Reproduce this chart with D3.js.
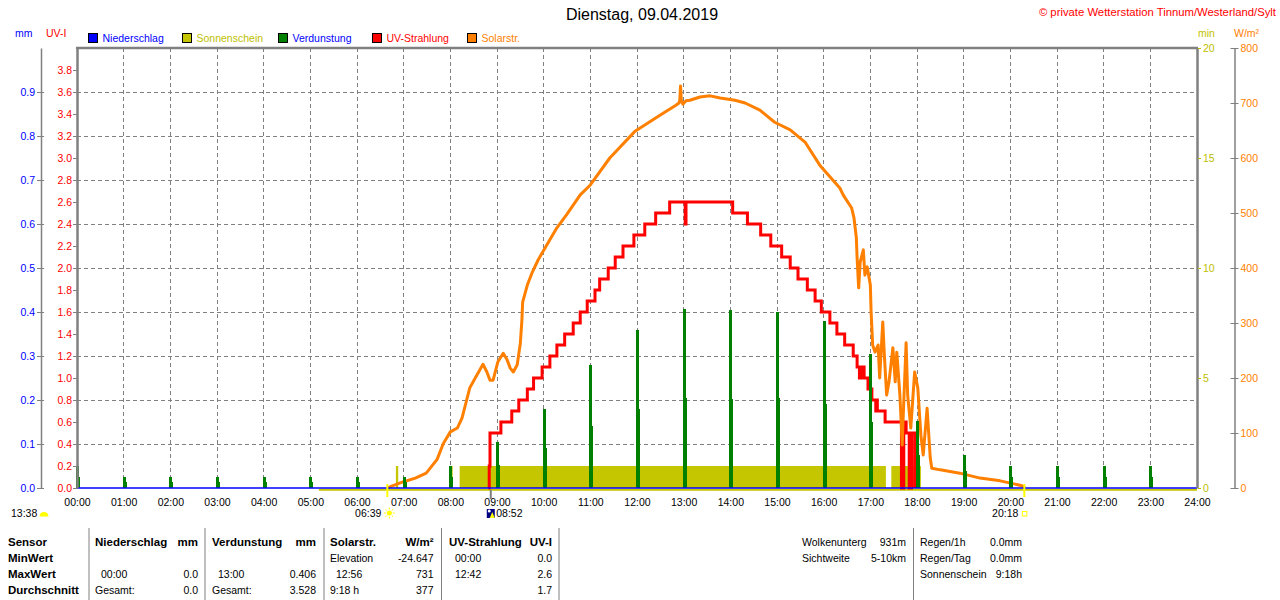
<!DOCTYPE html>
<html>
<head>
<meta charset="utf-8">
<script src="https://cdn.jsdelivr.net/npm/d3@7"></script>
<style>
  body { margin: 0; background: #fff; }
  svg { display: block; font-family: "Liberation Sans", Arial, sans-serif; }
</style>
</head>
<body>
<svg id="chart" width="1280" height="600"></svg>
<script>
// ---- Daten ----
const zeitTicks = ["00:00","01:00","02:00","03:00","04:00","05:00","06:00","07:00","08:00","09:00","10:00","11:00","12:00",
  "13:00","14:00","15:00","16:00","17:00","18:00","19:00","20:00","21:00","22:00","23:00","24:00"];
const mmTicks = [0.0, 0.1, 0.2, 0.3, 0.4, 0.5, 0.6, 0.7, 0.8, 0.9];
const uvTicks = [0.0, 0.2, 0.4, 0.6, 0.8, 1.0, 1.2, 1.4, 1.6, 1.8, 2.0, 2.2, 2.4, 2.6, 2.8, 3.0, 3.2, 3.4, 3.6, 3.8];
const minTicks = [0, 5, 10, 15, 20];
const wTicks = [0, 100, 200, 300, 400, 500, 600, 700, 800];

// Niederschlag (mm)
const niederschlagZeit = ["00:00", "24:00"];
const niederschlag = [0, 0];

// Verdunstung je Stunde (mm)
const verdunstungZeit = ["00:00","01:00","02:00","03:00","04:00","05:00","06:00","07:00","08:00","09:00","10:00","11:00",
  "12:00","13:00","14:00","15:00","16:00","17:00","18:00","19:00","20:00","21:00","22:00","23:00"];
const verdunstung = [0.051, 0.026, 0.026, 0.026, 0.026, 0.026, 0.026, 0.026, 0.051, 0.105, 0.18, 0.28,
  0.36, 0.406, 0.405, 0.40, 0.38, 0.305, 0.152, 0.075, 0.05, 0.05, 0.05, 0.05];
const verdunstungHalb = [0.026, 0.014, 0.014, 0.014, 0.014, 0.014, 0.014, 0.013, 0.025, 0.052, 0.09, 0.14,
  0.18, 0.205, 0.202, 0.205, 0.19, 0.15, 0.075, 0.038, 0.025, 0.025, 0.025, 0.025];

// Sonnenschein (min pro Minute)
const sonneStart = "05:11";
const sonneVon = ["06:50", "08:02", "08:12", "17:27"];
const sonneBis = ["06:53", "08:03", "17:20", "18:05"];
const sonneMin = [1, 1, 1, 1];

// UV-Strahlung (UV-I), Stufenwerte ab Zeitpunkt
const uvZeit = ["08:49","08:50","08:51","09:05","09:19","09:28","09:39","09:47","09:58","10:08","10:17","10:27","10:38",
  "10:47","10:56","11:06","11:12","11:23","11:32","11:42","11:56","12:10","12:24","12:42","13:02","13:03","14:03",
  "14:22","14:39","14:52","15:06","15:17","15:27","15:39","15:49","15:57","16:08","16:17","16:27","16:38","16:43",
  "16:46","16:47","16:49","16:50","16:52","16:57","17:02","17:07","17:08","17:09","17:19","17:40","17:43","17:46",
  "17:50","17:53","17:57"];
const uvWert = [0.0, 0.2, 0.5, 0.6, 0.7, 0.8, 0.9, 1.0, 1.1, 1.2, 1.3, 1.4, 1.5,
  1.6, 1.7, 1.8, 1.9, 2.0, 2.1, 2.2, 2.3, 2.4, 2.5, 2.6, 2.4, 2.6, 2.5,
  2.4, 2.3, 2.2, 2.1, 2.0, 1.9, 1.8, 1.7, 1.6, 1.5, 1.4, 1.3, 1.2, 1.1,
  1.0, 1.1, 1.0, 1.1, 1.0, 0.9, 0.8, 0.7, 0.8, 0.7, 0.6, 0.0, 0.6, 0.5,
  0.0, 0.5, 0.0];

// Solarstrahlung (W/m²)
const solarZeit = ["06:40","06:42","06:59","07:15","07:29","07:43","07:51","08:00","08:09","08:15","08:21","08:25",
  "08:32","08:38","08:42","08:47","08:51","08:55","09:01","09:08","09:13","09:17","09:21","09:26","09:30","09:32",
  "09:33","09:39","09:45","09:53","10:04","10:17","10:30","10:47","11:00","11:25","11:57","12:30","12:49","12:54",
  "12:55","12:56","12:57","12:59","13:03","13:08","13:21","13:34","13:47","14:06","14:19","14:38","14:57","15:17",
  "15:36","15:55","16:21","16:25","16:36","16:39","16:42","16:43","16:45","16:47","16:51","16:53","16:56","17:00",
  "17:01","17:03","17:06","17:10","17:12","17:16","17:18","17:21","17:24","17:29","17:32","17:34","17:38","17:41",
  "17:42","17:46","17:48","17:52","17:57","18:01","18:05","18:08","18:13","18:17","18:19","18:30","18:55","19:21",
  "19:47","20:06","20:15","20:19"];
const solarWert = [0, 2, 11, 18, 27, 52, 81, 102, 109, 127, 160, 182,
  200, 215, 225, 211, 196, 196, 229, 245, 233, 218, 211, 224, 263, 305,
  338, 369, 391, 415, 442, 473, 498, 533, 551, 600, 648, 678, 695, 700,
  705, 731, 705, 698, 704, 705, 711, 713, 709, 705, 700, 687, 665, 651,
  629, 587, 545, 533, 509, 491, 455, 418, 364, 411, 433, 387, 402, 369,
  320, 260, 247, 260, 200, 302, 242, 169, 193, 255, 193, 247, 169, 78,
  120, 264, 169, 109, 211, 182, 96, 60, 145, 55, 36, 33, 27, 18,
  13, 7, 4, 0];

// Astronomische Zeiten
const tageslaenge = "13:38";
const sonnenaufgang = "06:39";
const mondzeit = "08:52";
const sonnenuntergang = "20:18";

// Legende
const legendeNamen = ["Niederschlag", "Sonnenschein", "Verdunstung", "UV-Strahlung", "Solarstr."];
const legendeFarbe = ["#0000ff", "#c6c600", "#008000", "#ff0000", "#ff8000"];
const legendeText = ["#0000ff", "#c0c000", "#0000ff", "#ff0000", "#ff8000"];

// Tabelle
const tabKopf = ["Sensor", "Niederschlag", "mm", "Verdunstung", "mm", "Solarstr.", "W/m²", "UV-Strahlung", "UV-I"];
const tabZeilen = [
  ["MinWert", "", "", "", "", "Elevation", "-24.647", "00:00", "0.0"],
  ["MaxWert", "00:00", "0.0", "13:00", "0.406", "12:56", "731", "12:42", "2.6"],
  ["Durchschnitt", "Gesamt:", "0.0", "Gesamt:", "3.528", "9:18 h", "377", "", "1.7"]
];
const infoZeilen = [
  ["Wolkenunterg", "931m", "Regen/1h", "0.0mm"],
  ["Sichtweite", "5-10km", "Regen/Tag", "0.0mm"],
  ["", "", "Sonnenschein", "9:18h"]
];

// ---- Zeichnen ----
const minuten = s => { const p = s.split(":"); return +p[0] * 60 + +p[1]; };
const svg = d3.select("#chart");
const FS = 10.5;
const grau = "#808080";

const x = d3.scaleLinear().domain([0, 1440]).range([77, 1197]);
const yMM = d3.scaleLinear().domain([0, 1]).range([488, 48]);
const yUV = d3.scaleLinear().domain([0, 4]).range([488, 48]);
const yMin = d3.scaleLinear().domain([0, 20]).range([488, 48]);
const yW = d3.scaleLinear().domain([0, 800]).range([488, 48]);

// Gitter
const grid = svg.append("g").attr("stroke", grau).attr("stroke-dasharray", "4,3").attr("shape-rendering", "crispEdges");
grid.selectAll("line.h").data(mmTicks.slice(1)).join("line").attr("class", "h")
  .attr("x1", x(0)).attr("x2", x(1440)).attr("y1", d => yMM(d)).attr("y2", d => yMM(d));
grid.selectAll("line.v").data(zeitTicks.slice(1, -1)).join("line").attr("class", "v")
  .attr("x1", d => x(minuten(d))).attr("x2", d => x(minuten(d))).attr("y1", yMM(1)).attr("y2", yMM(0));

// Sonnenschein
svg.append("line")
  .attr("x1", x(minuten(sonneStart))).attr("x2", x(1440))
  .attr("y1", yMin(0) + 1.8).attr("y2", yMin(0) + 1.8)
  .attr("stroke", "#c6c600").attr("stroke-width", 2);
svg.append("g").selectAll("rect").data(sonneVon).join("rect")
  .attr("x", d => x(minuten(d)))
  .attr("width", (d, i) => x(minuten(sonneBis[i])) - x(minuten(d)))
  .attr("y", (d, i) => yMin(sonneMin[i]))
  .attr("height", (d, i) => yMin(0) - yMin(sonneMin[i]))
  .attr("fill", "#c6c600");

// UV-Strahlung
const uvDaten = uvZeit.map((t, i) => ({t: minuten(t), v: uvWert[i]}));
svg.append("path").datum(uvDaten)
  .attr("d", d3.line().x(d => x(d.t)).y(d => yUV(d.v)).curve(d3.curveStepAfter))
  .attr("fill", "none").attr("stroke", "#ff0000").attr("stroke-width", 3);

// Solarstrahlung
const solarDaten = solarZeit.map((t, i) => ({t: minuten(t), v: solarWert[i]}));
svg.append("path").datum(solarDaten)
  .attr("d", d3.line().x(d => x(d.t)).y(d => yW(d.v)))
  .attr("fill", "none").attr("stroke", "#ff8000").attr("stroke-width", 3)
  .attr("stroke-linejoin", "round");

// Verdunstung
const verd = svg.append("g").attr("fill", "#008000").attr("shape-rendering", "crispEdges");
verd.selectAll("rect.b").data(verdunstungZeit).join("rect").attr("class", "b")
  .attr("x", d => x(minuten(d))).attr("width", 3)
  .attr("y", (d, i) => yMM(verdunstungHalb[i]))
  .attr("height", (d, i) => yMM(0) - yMM(verdunstungHalb[i]));
verd.selectAll("rect.a").data(verdunstungZeit).join("rect").attr("class", "a")
  .attr("x", d => x(minuten(d)) - 1).attr("width", 3)
  .attr("y", (d, i) => yMM(verdunstung[i]))
  .attr("height", (d, i) => yMM(0) - yMM(verdunstung[i]));

// Niederschlag
svg.append("path").datum(niederschlagZeit.map((t, i) => ({t: minuten(t), v: niederschlag[i]})))
  .attr("d", d3.line().x(d => x(d.t)).y(d => yMM(d.v)))
  .attr("fill", "none").attr("stroke", "#0000ff").attr("stroke-width", 1.6);

// Rahmen oben
svg.append("line").attr("x1", x(0) - 1).attr("x2", x(1440) + 1).attr("y1", yMM(1)).attr("y2", yMM(1))
  .attr("stroke", grau).attr("stroke-width", 2.5);

// Achsen
function styleAxis(g, farbe, textFarbe, breite) {
  g.attr("font-size", FS).attr("font-family", null);
  g.select(".domain").attr("stroke", farbe).attr("stroke-width", breite);
  g.selectAll(".tick line").attr("stroke", farbe);
  g.selectAll(".tick text").attr("fill", textFarbe);
}

const axMM = svg.append("g").attr("transform", "translate(41,0)")
  .call(d3.axisLeft(yMM).tickValues(mmTicks).tickFormat(d3.format(".1f")).tickSize(4).tickPadding(2).tickSizeOuter(0));
styleAxis(axMM, grau, "#0000ff", 1.5);
axMM.selectAll(".tick line").attr("x2", -4).attr("x1", 3);

const axUV = svg.append("g").attr("transform", `translate(${x(0)},0)`)
  .call(d3.axisLeft(yUV).tickValues(uvTicks).tickFormat(d3.format(".1f")).tickSize(4).tickPadding(1).tickSizeOuter(0));
styleAxis(axUV, grau, "#ff0000", 2.5);

const axMin = svg.append("g").attr("transform", `translate(${x(1440)},0)`)
  .call(d3.axisRight(yMin).tickValues(minTicks).tickSize(4).tickPadding(2).tickSizeOuter(0));
styleAxis(axMin, grau, "#c0c000", 2.5);
axMin.selectAll(".tick line").attr("stroke", "#c0c000").attr("x1", 1);

const axW = svg.append("g").attr("transform", "translate(1234.5,0)")
  .call(d3.axisRight(yW).tickValues(wTicks).tickSize(4).tickPadding(2).tickSizeOuter(0));
styleAxis(axW, grau, "#ff8000", 1.5);
axW.selectAll(".tick line").attr("x1", -4);

const axX = svg.append("g").attr("transform", `translate(0,${yMM(0)})`)
  .call(d3.axisBottom(x).tickValues(zeitTicks.map(minuten)).tickFormat((d, i) => zeitTicks[i]).tickSize(0).tickPadding(11));
axX.attr("font-size", FS).attr("font-family", null);
axX.select(".domain").remove();
axX.selectAll(".tick text").attr("fill", "#000");

// Markierungen unter der Achse
[sonnenaufgang, sonnenuntergang].forEach(t => {
  svg.append("line").attr("x1", x(minuten(t))).attr("x2", x(minuten(t)))
    .attr("y1", 484).attr("y2", 497).attr("stroke", "#ffff00").attr("stroke-width", 2);
});
svg.append("line").attr("x1", x(minuten(mondzeit))).attr("x2", x(minuten(mondzeit)))
  .attr("y1", 490).attr("y2", 499).attr("stroke", grau).attr("stroke-width", 2);

const zeitText = (tx, anchor, txt) => svg.append("text").attr("x", tx).attr("y", 517)
  .attr("text-anchor", anchor).attr("font-size", FS).text(txt);

zeitText(11, "start", tageslaenge);
svg.append("path").attr("d", "M39.5,516.5 A4.5,4.5 0 0 1 48.5,516.5 Z").attr("fill", "#ffff00");

const xa = x(minuten(sonnenaufgang));
zeitText(xa - 6, "end", sonnenaufgang);
svg.append("circle").attr("cx", xa + 2).attr("cy", 513).attr("r", 2.5).attr("fill", "#ffff00");
d3.range(8).forEach(k => {
  const a = k * Math.PI / 4;
  svg.append("line").attr("x1", xa + 2 + Math.cos(a) * 3.5).attr("y1", 513 + Math.sin(a) * 3.5)
    .attr("x2", xa + 2 + Math.cos(a) * 5.5).attr("y2", 513 + Math.sin(a) * 5.5)
    .attr("stroke", "#ffff00").attr("stroke-width", 1);
});

const xm = x(minuten(mondzeit));
svg.append("rect").attr("x", xm - 4).attr("y", 509).attr("width", 8).attr("height", 9).attr("fill", "#000080");
svg.append("circle").attr("cx", xm - 1.5).attr("cy", 511).attr("r", 1.5).attr("fill", "#ffffff");
svg.append("path").attr("d", `M${xm - 1},518 L${xm + 1.5},512 L${xm + 4},518 Z`).attr("fill", "#ffff00");
zeitText(xm + 5.5, "start", mondzeit);

const xu = x(minuten(sonnenuntergang));
zeitText(xu - 6, "end", sonnenuntergang);
svg.append("rect").attr("x", xu - 2).attr("y", 511.5).attr("width", 4.5).attr("height", 4.5)
  .attr("fill", "none").attr("stroke", "#ffff00").attr("stroke-width", 1);

// Titel & Copyright
svg.append("text").attr("x", 642).attr("y", 20).attr("text-anchor", "middle").attr("font-size", 16)
  .text("Dienstag, 09.04.2019");
svg.append("text").attr("x", 1276).attr("y", 16).attr("text-anchor", "end").attr("font-size", 11.3)
  .attr("fill", "#ff0000").text("© private Wetterstation Tinnum/Westerland/Sylt");

// Einheiten
[["mm", 15, "start", "#0000ff"], ["UV-I", 46, "start", "#ff0000"], ["min", 1198, "start", "#c0c000"], ["W/m²", 1234, "start", "#ff8000"]]
  .forEach(([t, tx, a, c]) => svg.append("text").attr("x", tx).attr("y", 37).attr("text-anchor", a)
    .attr("font-size", FS).attr("fill", c).text(t));

// Legende
const legX = [88, 182, 278, 372, 467];
const leg = svg.append("g");
legendeNamen.forEach((n, i) => {
  leg.append("rect").attr("x", legX[i] + 0.5).attr("y", 33.5).attr("width", 9).attr("height", 9)
    .attr("fill", legendeFarbe[i]).attr("stroke", "#000").attr("stroke-width", 1);
  leg.append("text").attr("x", legX[i] + 14.5).attr("y", 42).attr("font-size", FS)
    .attr("fill", legendeText[i]).text(n);
});

// Tabelle
const spalten = [[8, "start"], [95, "start"], [198, "end"], [212, "start"], [316, "end"],
  [330, "start"], [433.5, "end"], [449, "start"], [552, "end"]];
const zeilenY = [545.5, 562, 578, 594];
const tab = svg.append("g");
[89, 205, 324, 441.5, 559, 913.5].forEach(sx => tab.append("line")
  .attr("x1", sx).attr("x2", sx).attr("y1", 528).attr("y2", 600).attr("stroke", grau));
tabKopf.forEach((t, j) => tab.append("text").attr("x", spalten[j][0]).attr("y", zeilenY[0])
  .attr("text-anchor", spalten[j][1]).attr("font-size", 11.5).attr("font-weight", "bold").text(t));
tabZeilen.forEach((z, r) => z.forEach((t, j) => {
  if (!t) return;
  const einzug = (j > 0 && spalten[j][1] === "start" && /^\d+:\d\d$/.test(t)) ? 6 : 0;
  tab.append("text").attr("x", spalten[j][0] + einzug).attr("y", zeilenY[r + 1])
    .attr("text-anchor", spalten[j][1])
    .attr("font-size", j === 0 ? 11.5 : FS).attr("font-weight", j === 0 ? "bold" : null).text(t);
}));
const infoSpalten = [[802, "start"], [906, "end"], [920, "start"], [1022, "end"]];
infoZeilen.forEach((z, r) => z.forEach((t, j) => {
  if (!t) return;
  tab.append("text").attr("x", infoSpalten[j][0]).attr("y", zeilenY[r])
    .attr("text-anchor", infoSpalten[j][1]).attr("font-size", FS).text(t);
}));
</script>
</body>
</html>
